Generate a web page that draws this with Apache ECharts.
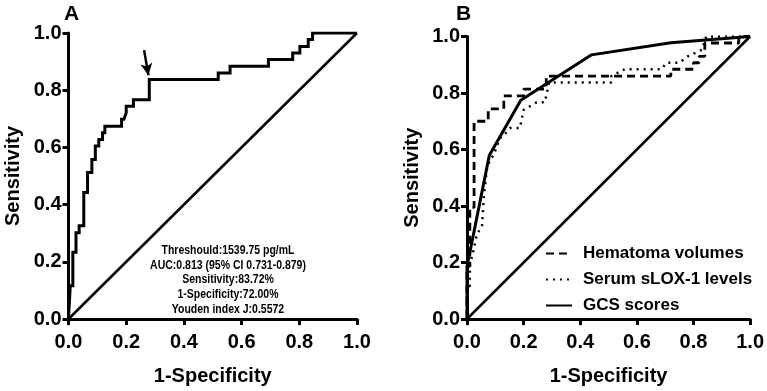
<!DOCTYPE html>
<html><head><meta charset="utf-8">
<script src="https://cdn.jsdelivr.net/npm/echarts@6/dist/echarts.min.js"></script>
<style>html,body{margin:0;padding:0;background:#fff}#c{width:767px;height:391px}</style>
</head><body><div id="c"></div>
<script>
// ---- data ----
const tickLabels = ['0.0','0.2','0.4','0.6','0.8','1.0'];
const diagX = [0, 1];
const diagY = [0, 1];
// Panel A ROC corners
const rocAx = [0,0.006,0.006,0.015,0.015,0.026,0.026,0.037,0.037,0.053,0.053,0.066,0.066,0.081,0.081,0.093,0.093,0.105,0.105,0.118,0.118,0.126,0.126,0.184,0.184,0.192,0.2,0.2,0.225,0.225,0.28,0.28,0.519,0.519,0.56,0.56,0.693,0.693,0.777,0.777,0.802,0.802,0.831,0.831,0.846,0.846,1];
const rocAy = [0,0,0.116,0.116,0.233,0.233,0.302,0.302,0.326,0.326,0.442,0.442,0.512,0.512,0.558,0.558,0.605,0.605,0.628,0.628,0.651,0.651,0.674,0.674,0.698,0.698,0.721,0.744,0.744,0.767,0.767,0.837,0.837,0.86,0.86,0.884,0.884,0.907,0.907,0.93,0.93,0.953,0.953,0.977,0.977,1,1];
const arrowX = [0.262, 0.277];
const arrowY = [0.94, 0.852];
const annotation = ['Threshould:1539.75 pg/mL','AUC:0.813 (95% CI 0.731-0.879)','Sensitivity:83.72%','1-Specificity:72.00%','Youden index J:0.5572'];
// Panel B
const seriesNames = ['Hematoma volumes','Serum sLOX-1 levels','GCS scores'];
const hemX = [0,0,0.01,0.01,0.025,0.025,0.075,0.075,0.13,0.13,0.2,0.2,0.28,0.28,0.72,0.72,0.8,0.8,0.82,0.82,0.84,0.84,0.96,0.96,1];
const hemY = [0,0.186,0.186,0.395,0.395,0.70,0.70,0.744,0.744,0.79,0.79,0.814,0.814,0.86,0.86,0.884,0.884,0.907,0.907,0.93,0.93,0.977,0.977,1,1];
const serX = [0,0,0.01,0.01,0.02,0.035,0.053,0.06,0.07,0.081,0.094,0.116,0.13,0.152,0.187,0.2,0.246,0.275,0.282,0.29,0.51,0.51,0.557,0.687,0.704,0.75,0.78,0.83,0.845,1];
const serY = [0,0.116,0.116,0.19,0.23,0.30,0.33,0.44,0.53,0.564,0.58,0.64,0.65,0.676,0.676,0.74,0.767,0.767,0.80,0.837,0.837,0.86,0.884,0.884,0.907,0.907,0.93,0.953,1,1];
const gcsX = [0,0,0.079,0.19,0.44,0.72,1];
const gcsY = [0,0.186,0.58,0.774,0.935,0.978,1];

const zip = (a,b)=>a.map((v,i)=>[v,b[i]]);
const FONT = 'Liberation Sans, Arial, sans-serif';

function xAxis(g){return {type:'value',gridIndex:g,min:0,max:1,interval:0.2,
  name:'1-Specificity',nameLocation:'middle',nameGap:47,
  nameTextStyle:{fontSize:20,fontWeight:'bold',color:'#000',fontFamily:FONT},
  axisLine:{show:true,onZero:false,lineStyle:{color:'#000',width:3}},
  axisTick:{show:true,length:6,lineStyle:{color:'#000',width:3}},
  axisLabel:{fontSize:20,fontWeight:'bold',color:'#000',fontFamily:FONT,margin:13,
    formatter:v=>tickLabels[Math.round(v/0.2)]},
  splitLine:{show:false}};}
function yAxis(g){return {type:'value',gridIndex:g,min:0,max:1,interval:0.2,
  name:'Sensitivity',nameLocation:'middle',nameGap:45,
  nameTextStyle:{fontSize:20,fontWeight:'bold',color:'#000',fontFamily:FONT},
  axisLine:{show:true,onZero:false,lineStyle:{color:'#000',width:3}},
  axisTick:{show:true,length:6,lineStyle:{color:'#000',width:3}},
  axisLabel:{fontSize:20,fontWeight:'bold',color:'#000',fontFamily:FONT,margin:7,
    formatter:v=>tickLabels[Math.round(v/0.2)]},
  splitLine:{show:false}};}

const chart = echarts.init(document.getElementById('c'),null,{renderer:'canvas'});
const lineBase = {type:'line',symbol:'none',silent:true,animation:false};
chart.setOption({
  animation:false,
  grid:[{left:68.5,top:33,width:288.5,height:288},{left:467,top:36.5,width:283.5,height:283.5}],
  xAxis:[xAxis(0),xAxis(1)],
  yAxis:[yAxis(0),yAxis(1)],
  legend:{orient:'vertical',left:540,top:240,itemWidth:26,itemHeight:14,itemGap:9,
    data:seriesNames,itemStyle:{opacity:0},
    textStyle:{fontSize:17,fontWeight:'bold',color:'#000',fontFamily:FONT,padding:[0,0,0,6]}},
  graphic:[
    {type:'text',left:64,top:4,style:{text:'A',fontSize:21,fontWeight:'bold',fill:'#000',fontFamily:FONT}},
    {type:'text',left:456,top:4,style:{text:'B',fontSize:21,fontWeight:'bold',fill:'#000',fontFamily:FONT}},
    {type:'text',x:228,y:243,scaleX:0.84,style:{text:annotation.join('\n'),align:'center',fontSize:12.5,lineHeight:14.7,
      fontWeight:'bold',fill:'#000',fontFamily:FONT}}
  ],
  series:[
    Object.assign({},lineBase,{xAxisIndex:0,yAxisIndex:0,data:zip(diagX,diagY),lineStyle:{color:'#000',width:2.5}}),
    Object.assign({},lineBase,{xAxisIndex:0,yAxisIndex:0,data:zip(rocAx,rocAy),lineStyle:{color:'#000',width:3,join:'miter'},
      markLine:{silent:true,symbol:['none','arrow'],symbolSize:[9,12],label:{show:false},
        lineStyle:{color:'#000',width:2.5,type:'solid'},
        data:[[{coord:[arrowX[0],arrowY[0]]},{coord:[arrowX[1],arrowY[1]]}]]}}),
    Object.assign({},lineBase,{xAxisIndex:1,yAxisIndex:1,data:zip(diagX,diagY),lineStyle:{color:'#000',width:2.5}}),
    Object.assign({},lineBase,{name:seriesNames[0],xAxisIndex:1,yAxisIndex:1,data:zip(hemX,hemY),itemStyle:{color:'#000'},lineStyle:{color:'#000',width:2.8,type:[8,5]}}),
    Object.assign({},lineBase,{name:seriesNames[1],xAxisIndex:1,yAxisIndex:1,data:zip(serX,serY),itemStyle:{color:'#000'},lineStyle:{color:'#000',width:2.5,type:[2,5]}}),
    Object.assign({},lineBase,{name:seriesNames[2],xAxisIndex:1,yAxisIndex:1,data:zip(gcsX,gcsY),itemStyle:{color:'#000'},lineStyle:{color:'#000',width:3}})
  ]
});
</script></body></html>
